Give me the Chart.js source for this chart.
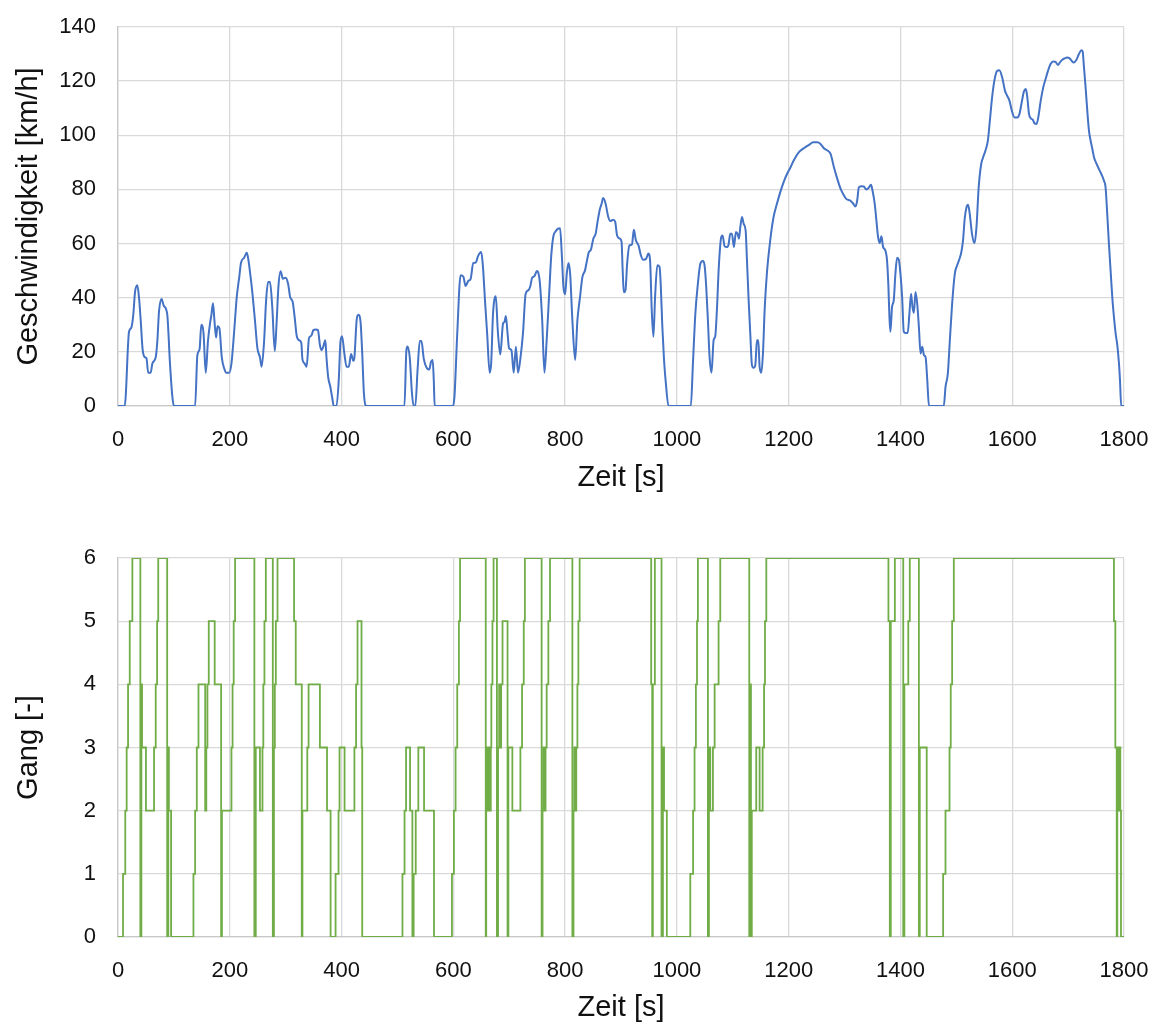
<!DOCTYPE html>
<html><head><meta charset="utf-8">
<script src="https://cdn.jsdelivr.net/npm/chart.js@4/dist/chart.umd.min.js"></script>
<style>
html,body{margin:0;padding:0;background:#fff;}
#wrap{position:relative;width:1162px;height:1025px;background:#fff;}
canvas{position:absolute;left:0;}
</style></head><body>
<div id="wrap">
<canvas id="c1" width="1162" height="495" style="top:0"></canvas>
<canvas id="c2" width="1162" height="530" style="top:495px"></canvas>
</div>
<script>
const speedTime = [0,12,19.7,24,27.5,30.4,34.6,37.6,40.6,44,48,51,54,58.5,61.5,67.5,70.4,73.4,78,82,88,93,97,100,138,142,146,149,153,157,161,165,167,170,172.5,175.5,178,181.5,185.7,190,194,199,203,208,212.5,217,220,225.7,230.5,233,236.5,240.6,245,249.5,254,257,261.5,265,268.6,272,276,280.6,284,287,291,295,300,304.5,308,312.5,316,319.7,324,328,330,334,337.5,341.7,346,349.4,353.6,357.8,361.3,364.3,367.3,371,373,376,380,383,386,391,395,398,401,405,409,413,417,421,423,427,430,434,437,440,444.6,512.5,516,518,522,526,529,532,536,540,543,547,553,557,560,563,565,566.6,599,602,607,613,618,622,626.7,631,635.6,640.4,644,650,653,657,660.5,665,667.7,671,676,679.5,684,689,691.4,694,697,699.7,704,708,712,715.7,720,724.6,729.4,734.7,737.7,741,745,749.6,752.5,755,759,763,767,771.5,775,779,783,787.5,791,794,797,800,803,806,809,813,818,822,826.7,831,835.6,838.6,842.7,846,850.5,854.6,858,862.3,865.3,868,872.5,877,881,886,889.6,893,898,901,903,905,908,911,915,919.6,923,926.6,931.4,935.5,940,945,949,952,955,958,961,965,969,971,974,977,980,985,1025,1028.7,1033,1037,1042,1046.6,1049.5,1052.5,1055.5,1058.5,1062,1065.7,1068.7,1071.6,1075,1079.4,1081.8,1085.4,1089.5,1092.5,1095.5,1098.5,1102,1105.7,1108.6,1111,1113.4,1116.5,1119.5,1123,1125.4,1128.4,1131.3,1134.3,1137.3,1140.3,1143.3,1145.7,1148,1151,1154,1157,1161,1167,1173,1179,1185,1191,1197,1203,1209,1218,1227,1236,1244,1251,1257,1263,1270,1275,1281,1287,1293,1297.3,1303,1310,1315,1319.6,1322.6,1325.6,1329.6,1334.3,1339,1343,1347.3,1350,1354,1357,1360,1363,1366,1369,1372.5,1376,1378.5,1380.3,1382,1385,1388,1391,1394,1397,1400,1403,1406,1409,1413,1416,1419,1421.5,1424,1427,1430,1433,1436,1439,1442,1445,1448,1451,1477.6,1480.6,1484.8,1488.4,1492.5,1497.3,1501.5,1505.7,1509,1512,1515,1518,1521,1524,1528,1532.5,1536,1540,1544.5,1548,1552,1556.4,1560,1564,1568,1573,1577,1582,1587,1591,1595,1600,1604,1609,1613,1617,1621,1624.5,1627,1630,1633,1637,1640,1643.6,1646.6,1651,1655.5,1659.7,1664,1668.6,1673.4,1677.6,1681.7,1685.4,1689.5,1693.7,1698.5,1702.7,1706.3,1710.4,1714.6,1719.4,1723.6,1726,1728.4,1731.3,1734.3,1737.3,1740.3,1743.3,1746.3,1751,1755,1759.4,1764,1767,1770,1773,1776,1779,1782,1785,1788,1791,1792.8,1795,1800];
const speedValue = [0,0,27.4,29,34,42,44.6,40,31.7,21,18,17.6,12.3,12.3,15.7,18,24,35,39.5,37,34,15.7,4,0,0,18.8,21,30,27,12.3,24,31,33.5,38,31.7,25.3,29.5,28.6,18,13.9,12.3,12.3,15.7,28,40.3,47.7,52.8,54.8,56.6,54.4,49,41.5,31.7,21.3,18,14.5,24.3,39,45.8,45.8,36.6,20.3,31.7,44,49.8,47,47.4,45,40.3,38.5,33,26,24.3,23.3,17.2,15.7,14.5,25,26,28,28.3,28,22.5,20.6,21.9,24.3,18,10.8,7,3.4,0,0,9.6,23.7,25.8,19.4,14.5,14.5,19.2,16.7,18,31.7,33.7,31,19.4,4.7,0,0,20.6,22,18,4.7,0,0,13.3,24,24,17.6,13.9,13.5,16.3,17,9.6,0,0,3.4,26.8,48.3,47.7,44.3,46.2,47,52.8,53,55.3,56.9,51.4,37.8,26.8,12.3,15.7,34,40.5,28,19,30.5,31,33.2,26.8,21.3,20.6,12.3,21.9,12.3,17.6,26.8,41.5,42.8,44.2,47.4,47.9,49.9,48.9,45.2,31.7,12.3,24.3,41.5,55,62.7,64.5,65.5,65.7,56.3,44,41.3,48.9,52.8,48.9,31.7,17,31.7,40.3,47.7,50.1,53.2,56.9,57.7,61.8,63.6,68,72.8,74.7,76.8,74.7,70,68.3,68.8,68,63,61.8,60.6,50,42,42.8,52.6,59.3,59.7,65.1,61.2,59.3,55.7,54,54.4,56.3,53.8,35.4,25.6,40.3,52,51.4,45.2,29.2,17,9,0,0,15.7,34,44,52.6,53.6,52,44,31.7,18,12.3,24.3,25.8,35.4,51.4,62.4,63,59,58.7,59.7,63.6,63.6,58.7,64.3,63.6,61.8,66,69.8,67.3,64.9,53.8,39,26.8,15.1,14.1,15.1,24.3,24.3,14.5,12.3,19.4,35.4,48.9,61.2,69.8,74.7,79,82.7,85.7,88,90.7,93.7,95.2,96.4,97.4,97.4,96.8,95.2,94.3,93.1,88.2,83.9,80.2,78.4,76.5,75.9,74.9,73.7,75.9,80.8,81.2,81.1,80,80.5,81.7,79.6,74.7,68.5,62.4,60.2,62.7,58.7,57.7,53.8,44,32.9,27.4,36.6,39,48.9,54.8,54.1,48.9,40.3,27.4,27,27,34,41.5,36.6,34.4,42.1,37.8,29.2,19.4,21.9,18.8,18,9.6,0,0,7,12,24.3,37.8,48.9,52,54.4,56.9,61.2,69.2,73.2,74.3,71,63.6,60.2,66,80.8,89.4,91.9,94.3,98,105.4,114,120.1,123.8,124,121.4,116.5,114.6,112.8,108.5,106.6,106.6,107.9,112.2,116.2,117.1,114,107.9,106.3,105.7,104.4,104.2,106.6,112.8,117.7,120.8,123.8,126.3,127.3,127.1,126,126.9,127.9,128.4,128.7,128.4,127.5,126.9,127.8,130,131.4,131,125.1,117.7,109.1,101.7,98,95,91.9,89.4,87.6,85.7,83.3,80.8,71,60,50.1,40.3,32.9,26.8,22.5,15.7,9.6,0,0];

const gearTime = [0,9,13,15.5,18,21,25.7,40,41.8,43,50,64.5,67.5,70,72,88,90,91,95,135,138,141,144,156,158,160,162.4,173,184.5,186,203,205,207,209.5,244,246.5,254,258.5,260,262,264.5,277,279,280.6,282.4,285.4,315,318,328.8,330,338.7,341,361.3,374,380.4,389.3,394.6,396.4,405.4,423,426,428.6,435.7,437,509,512.7,515.4,522.6,526.7,529,532.7,537.4,547.6,565.4,597.5,601,604,607,610,612,658,658.8,660.5,662,664,666,667,668,670,672,678,680,682,683.7,685.5,688,697,698.5,705.6,720,723,726,728,758,759.6,761.4,763,765,767,770,773,813,815,816.6,818.4,820,822,823.7,826,954,955.8,957,960.6,972.5,975,977,982,1024,1029,1031.6,1034,1036,1037.6,1055.5,1057.3,1059.7,1064.5,1067.5,1074.6,1077.6,1129.5,1131,1132.5,1134,1142,1148,1153.4,1156,1157.6,1160,1378.5,1381,1382.7,1390,1405,1407,1414,1416.7,1433,1434.6,1447,1476.4,1480.6,1487.8,1490,1492.5,1495.5,1782,1784.5,1787,1788,1790.4,1791.6,1793.4,1794.6,1800];
const gearValue = [0,1,2,3,4,5,6,0,4,3,2,3,4,5,6,0,3,2,0,1,2,3,4,2,3,4,5,4,0,2,3,4,5,6,0,3,2,3,4,5,6,0,3,4,5,6,5,4,0,2,3,4,3,2,0,1,2,3,2,3,4,5,3,0,1,2,3,2,0,1,2,3,2,0,1,2,3,4,5,6,0,2,3,2,3,2,3,4,5,6,0,3,4,3,4,5,0,3,2,3,4,5,6,0,2,3,2,3,4,5,6,0,2,3,2,3,4,5,6,4,0,4,6,0,3,2,0,1,2,3,4,5,6,0,3,2,3,4,5,6,0,4,0,2,3,2,3,4,5,6,5,0,5,6,0,4,5,6,0,3,0,1,2,3,4,5,6,5,3,0,3,2,3,2,0,0];

const timeTickStep = 200;
const speedTickStep = 20;
const gearTickStep = 1;

const FONT = "'Liberation Sans', Arial, sans-serif";
const TXT = '#111111';
const GRID = '#d9d9d9';

function pts(xs, ys){ return xs.map((x,i)=>({x:x, y:ys[i]})); }

function makeChart(id, data, color, stepped, yMax, yStep, yTitle, padTop, axisH){
  return new Chart(document.getElementById(id), {
    type: 'line',
    data: { datasets: [{
      data: data,
      borderColor: color,
      borderWidth: stepped ? 1.8 : 2,
      pointRadius: 0,
      fill: false,
      stepped: stepped ? 'before' : false,
      cubicInterpolationMode: stepped ? 'default' : 'monotone',
      tension: stepped ? 0 : 0.4
    }]},
    options: {
      responsive: false,
      animation: false,
      events: [],
      layout: { padding: { top: padTop, right: 38, bottom: 0, left: 0 } },
      plugins: { legend: { display: false }, tooltip: { enabled: false } },
      scales: {
        x: {
          type: 'linear', min: 0, max: 1800,
          ticks: { stepSize: timeTickStep, padding: 21, color: TXT, font: { family: FONT, size: 22 }, maxRotation: 0, callback: v => String(v) },
          grid: { color: GRID, lineWidth: 1.3, drawTicks: false },
          border: { display: true, color: '#c8c8c8', width: 1.3 },
          title: { display: true, text: 'Zeit [s]', color: TXT, font: { family: FONT, size: 29 }, padding: { top: 0, bottom: 0 } },
          afterFit: s => { s.height = axisH; s.paddingLeft = 0; s.paddingRight = 0; }
        },
        y: {
          min: 0, max: yMax,
          ticks: { stepSize: yStep, padding: 22, color: TXT, font: { family: FONT, size: 22 }, callback: v => String(v) },
          grid: { color: GRID, lineWidth: 1.3, drawTicks: false },
          border: { display: true, color: '#c8c8c8', width: 1.3 },
          title: { display: true, text: yTitle, color: TXT, font: { family: FONT, size: 29 }, padding: { top: 12, bottom: 0 } },
          afterFit: s => { s.width = 118; s.paddingTop = 0; s.paddingBottom = 0; }
        }
      }
    }
  });
}

makeChart('c1', pts(speedTime, speedValue), '#4472C4', false, 140, speedTickStep, 'Geschwindigkeit [km/h]', 27, 89);
makeChart('c2', pts(gearTime, gearValue), '#70AD47', true, 6, gearTickStep, 'Gang [-]', 63, 88);
</script>
</body></html>
